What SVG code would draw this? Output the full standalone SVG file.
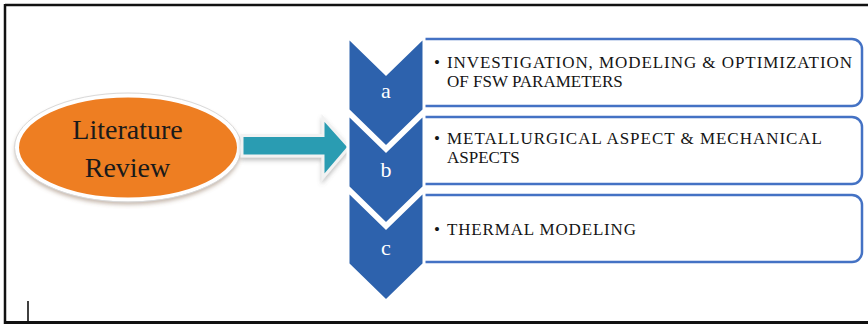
<svg xmlns="http://www.w3.org/2000/svg" width="868" height="326" viewBox="0 0 868 326">
<defs>
<style>
.frame{stroke:#111;fill:none}
.chev{fill:#2D62AD;stroke:#fff;stroke-width:3;stroke-linejoin:miter}
.box{fill:#fff;stroke:#4472C4;stroke-width:2.5}
.let{font-family:"Liberation Serif","Times New Roman",serif;font-size:22px;fill:#fff;text-anchor:middle}
.txt{font-family:"Liberation Serif","Times New Roman",serif;font-size:17px;fill:#151515}
.lit{font-family:"Liberation Serif","Times New Roman",serif;font-size:28px;fill:#1a1a1a;text-anchor:middle}
</style>
<filter id="sh" x="-20%" y="-20%" width="140%" height="150%">
<feDropShadow dx="0" dy="3" stdDeviation="2" flood-color="#7a5a40" flood-opacity="0.45"/>
</filter>
<filter id="sh2" x="-20%" y="-30%" width="140%" height="170%">
<feDropShadow dx="0" dy="3" stdDeviation="2" flood-color="#666" flood-opacity="0.4"/>
</filter>
</defs>
<rect width="868" height="326" fill="#fff"/>
<g id="frame">
<line class="frame" x1="5" y1="5" x2="868" y2="5" stroke-width="2.5"/>
<line class="frame" x1="5" y1="4" x2="5" y2="324" stroke-width="2.5"/>
<line class="frame" x1="4" y1="322.5" x2="868" y2="322.5" stroke-width="3"/>
<line class="frame" x1="28" y1="301" x2="28" y2="322" stroke-width="1.6"/>
</g>
<g id="node-literature-review">
<ellipse cx="128" cy="147.5" rx="111" ry="52" fill="#EE7E24" stroke="#fff" stroke-width="4" filter="url(#sh)"/>
<ellipse cx="128" cy="147.5" rx="113.5" ry="54.5" fill="none" stroke="#d9d9d9" stroke-width="1"/>
<text class="lit" x="127.5" y="139">Literature<tspan x="127.5" dy="38">Review</tspan></text>
</g>
<g id="connectors">
<polygon points="242,135.5 323,135.5 323,118 349,147 323,177.5 323,156 242,156" fill="#2A9CB2" stroke="#f2f2f2" stroke-width="3" stroke-linejoin="miter" filter="url(#sh2)"/>
</g>
<g id="node-a">
<path class="box" d="M423,39 H852 A10,10 0 0 1 862,49 V96 A10,10 0 0 1 852,106 H423"/>
<path class="chev" d="M348,37 L386,74 L424,37 L424,110 L386,147 L348,110 Z"/>
<text class="let" x="386" y="98">a</text>
<text class="txt" x="447" y="68"><tspan x="434">•</tspan><tspan x="447" textLength="405" lengthAdjust="spacing">INVESTIGATION, MODELING &amp; OPTIMIZATION</tspan><tspan x="447" dy="19">OF FSW PARAMETERS</tspan></text>
</g>
<g id="node-b">
<path class="box" d="M423,117 H852 A10,10 0 0 1 862,127 V174 A10,10 0 0 1 852,184 H423"/>
<path class="chev" d="M348,114 L386,151 L424,114 L424,187 L386,224 L348,187 Z"/>
<text class="let" x="386" y="177">b</text>
<text class="txt" x="447" y="144"><tspan x="434">•</tspan><tspan x="447" textLength="375" lengthAdjust="spacing">METALLURGICAL  ASPECT &amp; MECHANICAL</tspan><tspan x="447" dy="19">ASPECTS</tspan></text>
</g>
<g id="node-c">
<path class="box" d="M423,195 H852 A10,10 0 0 1 862,205 V252 A10,10 0 0 1 852,262 H423"/>
<path class="chev" d="M348,191 L386,228 L424,191 L424,264 L386,301 L348,264 Z"/>
<text class="let" x="386" y="255">c</text>
<text class="txt" x="447" y="235"><tspan x="434">•</tspan><tspan x="447" textLength="189" lengthAdjust="spacing">THERMAL MODELING</tspan></text>
</g>
</svg>
